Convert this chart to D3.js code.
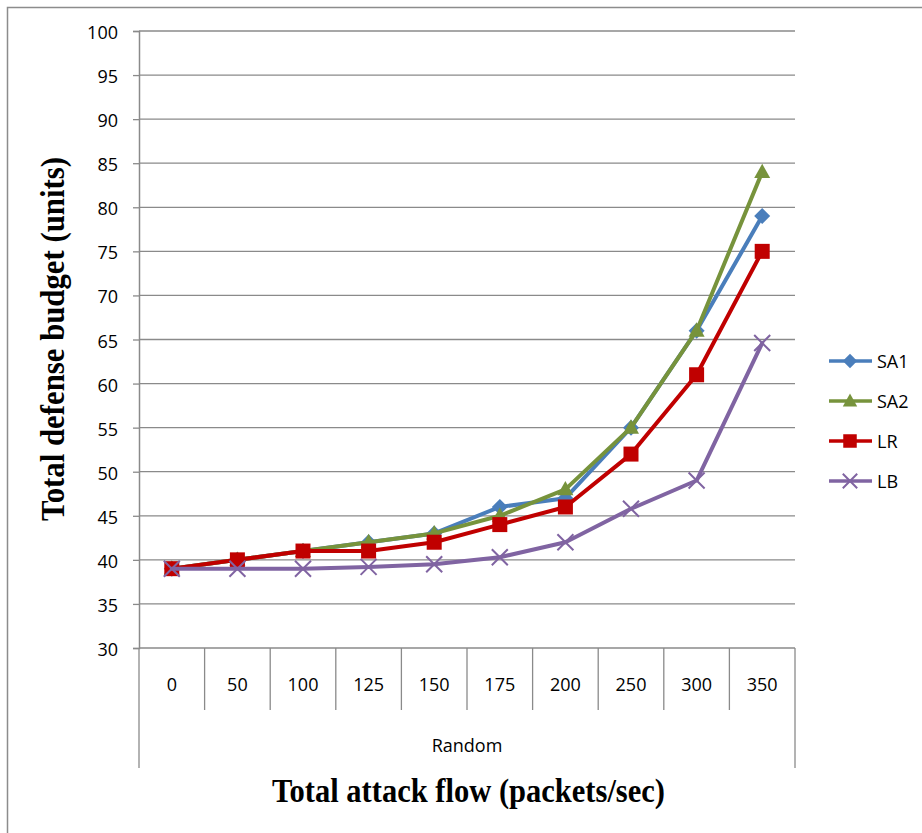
<!DOCTYPE html>
<html>
<head>
<meta charset="utf-8">
<script src="https://cdn.jsdelivr.net/npm/d3@7"></script>
<style>
  html, body { margin: 0; padding: 0; background: #fff; }
  svg { display: block; }
</style>
</head>
<body>
<div id="chart"></div>
<script>
// Attack flow categories (packets/sec)
const categories = ["0", "50", "100", "125", "150", "175", "200", "250", "300", "350"];
const groupLabel = "Random";

// Total defense budget (units) for each scheme
const sa1 = [39, 40, 41, 42, 43, 46, 47, 55, 66, 79];
const sa2 = [39, 40, 41, 42, 43, 45, 48, 55, 66, 84];
const lr  = [39, 40, 41, 41, 42, 44, 46, 52, 61, 75];
const lb  = [39, 39, 39, 39.2, 39.5, 40.3, 42, 45.8, 49, 64.6];

const seriesNames = ["SA1", "SA2", "LR", "LB"];
const yTicks = [30, 35, 40, 45, 50, 55, 60, 65, 70, 75, 80, 85, 90, 95, 100];

const series = [
  { name: "SA1", values: sa1, color: "#4A7EBB", marker: "diamond" },
  { name: "SA2", values: sa2, color: "#77933C", marker: "triangle" },
  { name: "LR",  values: lr,  color: "#C00000", marker: "square" },
  { name: "LB",  values: lb,  color: "#8064A2", marker: "cross" }
];

const W = 922, H = 833;
const plot = { left: 139, right: 795, top: 31, bottom: 648 };
const labelFont = "'Open Sans', sans-serif";
const titleFont = "'Liberation Serif', 'Times New Roman', serif";

const svg = d3.select("#chart").append("svg")
  .attr("width", W).attr("height", H);

// Outer frame (top and left edges)
svg.append("path")
  .attr("d", `M7.5,${H} L7.5,7.5 L${W},7.5`)
  .attr("fill", "none").attr("stroke", "#8c8c8c").attr("stroke-width", 1.5);

const x = d3.scaleBand().domain(categories).range([plot.left, plot.right]).padding(0);
const y = d3.scaleLinear().domain([30, 100]).range([plot.bottom, plot.top]);

const gridColor = "#8a8a8a";

// Horizontal gridlines
svg.append("g").selectAll("line").data(yTicks.filter(d => d > 30)).join("line")
  .attr("x1", plot.left).attr("x2", plot.right)
  .attr("y1", d => y(d)).attr("y2", d => y(d))
  .attr("stroke", gridColor).attr("stroke-width", 1.3);

// Y axis
const yAxis = svg.append("g")
  .attr("transform", `translate(${plot.left},0)`)
  .call(d3.axisLeft(y).tickValues(yTicks).tickSize(6).tickPadding(15).tickFormat(d3.format("d")));
yAxis.select(".domain").attr("stroke", gridColor).attr("stroke-width", 1.5);
yAxis.selectAll(".tick line").attr("stroke", gridColor).attr("stroke-width", 1.3);
yAxis.selectAll(".tick text")
  .attr("font-family", labelFont)
  .attr("font-size", 18).attr("fill", "#000")
  .attr("dy", "0.42em");

// X axis baseline
svg.append("line")
  .attr("x1", plot.left).attr("x2", plot.right)
  .attr("y1", plot.bottom).attr("y2", plot.bottom)
  .attr("stroke", gridColor).attr("stroke-width", 1.5);

// Category separators
const bounds = categories.map(c => x(c)).concat([plot.right]);
svg.append("g").selectAll("line").data(bounds).join("line")
  .attr("x1", d => d).attr("x2", d => d)
  .attr("y1", plot.bottom)
  .attr("y2", (d, i) => (i === 0 || i === bounds.length - 1) ? 768 : 710)
  .attr("stroke", gridColor).attr("stroke-width", 1.3);

// Category labels
svg.append("g").selectAll("text").data(categories).join("text")
  .attr("x", d => x(d) + x.bandwidth() / 2).attr("y", 691)
  .attr("text-anchor", "middle")
  .attr("font-family", labelFont)
  .attr("font-size", 18).attr("fill", "#000")
  .text(d => d);

// Group label
svg.append("text")
  .attr("x", (plot.left + plot.right) / 2).attr("y", 752)
  .attr("text-anchor", "middle")
  .attr("font-family", labelFont)
  .attr("font-size", 18).attr("fill", "#000")
  .text(groupLabel);

// Axis titles
svg.append("text")
  .attr("x", 272).attr("y", 802)
  .attr("font-family", titleFont)
  .attr("font-weight", "bold").attr("font-size", 33)
  .attr("textLength", 393).attr("lengthAdjust", "spacingAndGlyphs")
  .attr("fill", "#000")
  .text("Total attack flow (packets/sec)");

svg.append("text")
  .attr("transform", `translate(64,521) rotate(-90)`)
  .attr("font-family", titleFont)
  .attr("font-weight", "bold").attr("font-size", 33)
  .attr("textLength", 364).attr("lengthAdjust", "spacingAndGlyphs")
  .attr("fill", "#000")
  .text("Total defense budget (units)");

// Marker drawing
function drawMarker(g, type, color, cx, cy, scale) {
  const s = scale || 1;
  if (type === "diamond") {
    const r = 8 * s;
    g.append("path").attr("d", `M${cx},${cy - r} L${cx + r},${cy} L${cx},${cy + r} L${cx - r},${cy} Z`)
      .attr("fill", color);
  } else if (type === "triangle") {
    const r = 8 * s;
    g.append("path").attr("d", `M${cx},${cy - r * 1.05} L${cx + r},${cy + r * 0.75} L${cx - r},${cy + r * 0.75} Z`)
      .attr("fill", color);
  } else if (type === "square") {
    const r = 7.5 * s;
    g.append("rect").attr("x", cx - r).attr("y", cy - r).attr("width", 2 * r).attr("height", 2 * r)
      .attr("fill", color);
  } else if (type === "cross") {
    const r = 8 * s;
    g.append("path").attr("d", `M${cx - r},${cy - r} L${cx + r},${cy + r} M${cx - r},${cy + r} L${cx + r},${cy - r}`)
      .attr("stroke", color).attr("stroke-width", 2).attr("fill", "none");
  }
}

const line = d3.line()
  .x((d, i) => x(categories[i]) + x.bandwidth() / 2)
  .y(d => y(d));

series.forEach(s => {
  const g = svg.append("g");
  g.append("path").datum(s.values)
    .attr("d", line)
    .attr("fill", "none").attr("stroke", s.color)
    .attr("stroke-width", 4).attr("stroke-linejoin", "round").attr("stroke-linecap", "round");
  s.values.forEach((v, i) => {
    drawMarker(g, s.marker, s.color, x(categories[i]) + x.bandwidth() / 2, y(v));
  });
});

// Legend
const legend = svg.append("g");
series.forEach((s, i) => {
  const ly = 361 + i * 40;
  legend.append("line")
    .attr("x1", 829).attr("x2", 872).attr("y1", ly).attr("y2", ly)
    .attr("stroke", s.color).attr("stroke-width", 3.5);
  drawMarker(legend, s.marker, s.color, 850, ly, 0.9);
  legend.append("text")
    .attr("x", 877).attr("y", ly + 6.5)
    .attr("font-family", labelFont)
    .attr("font-size", 18).attr("fill", "#000")
    .text(seriesNames[i]);
});
</script>
</body>
</html>
